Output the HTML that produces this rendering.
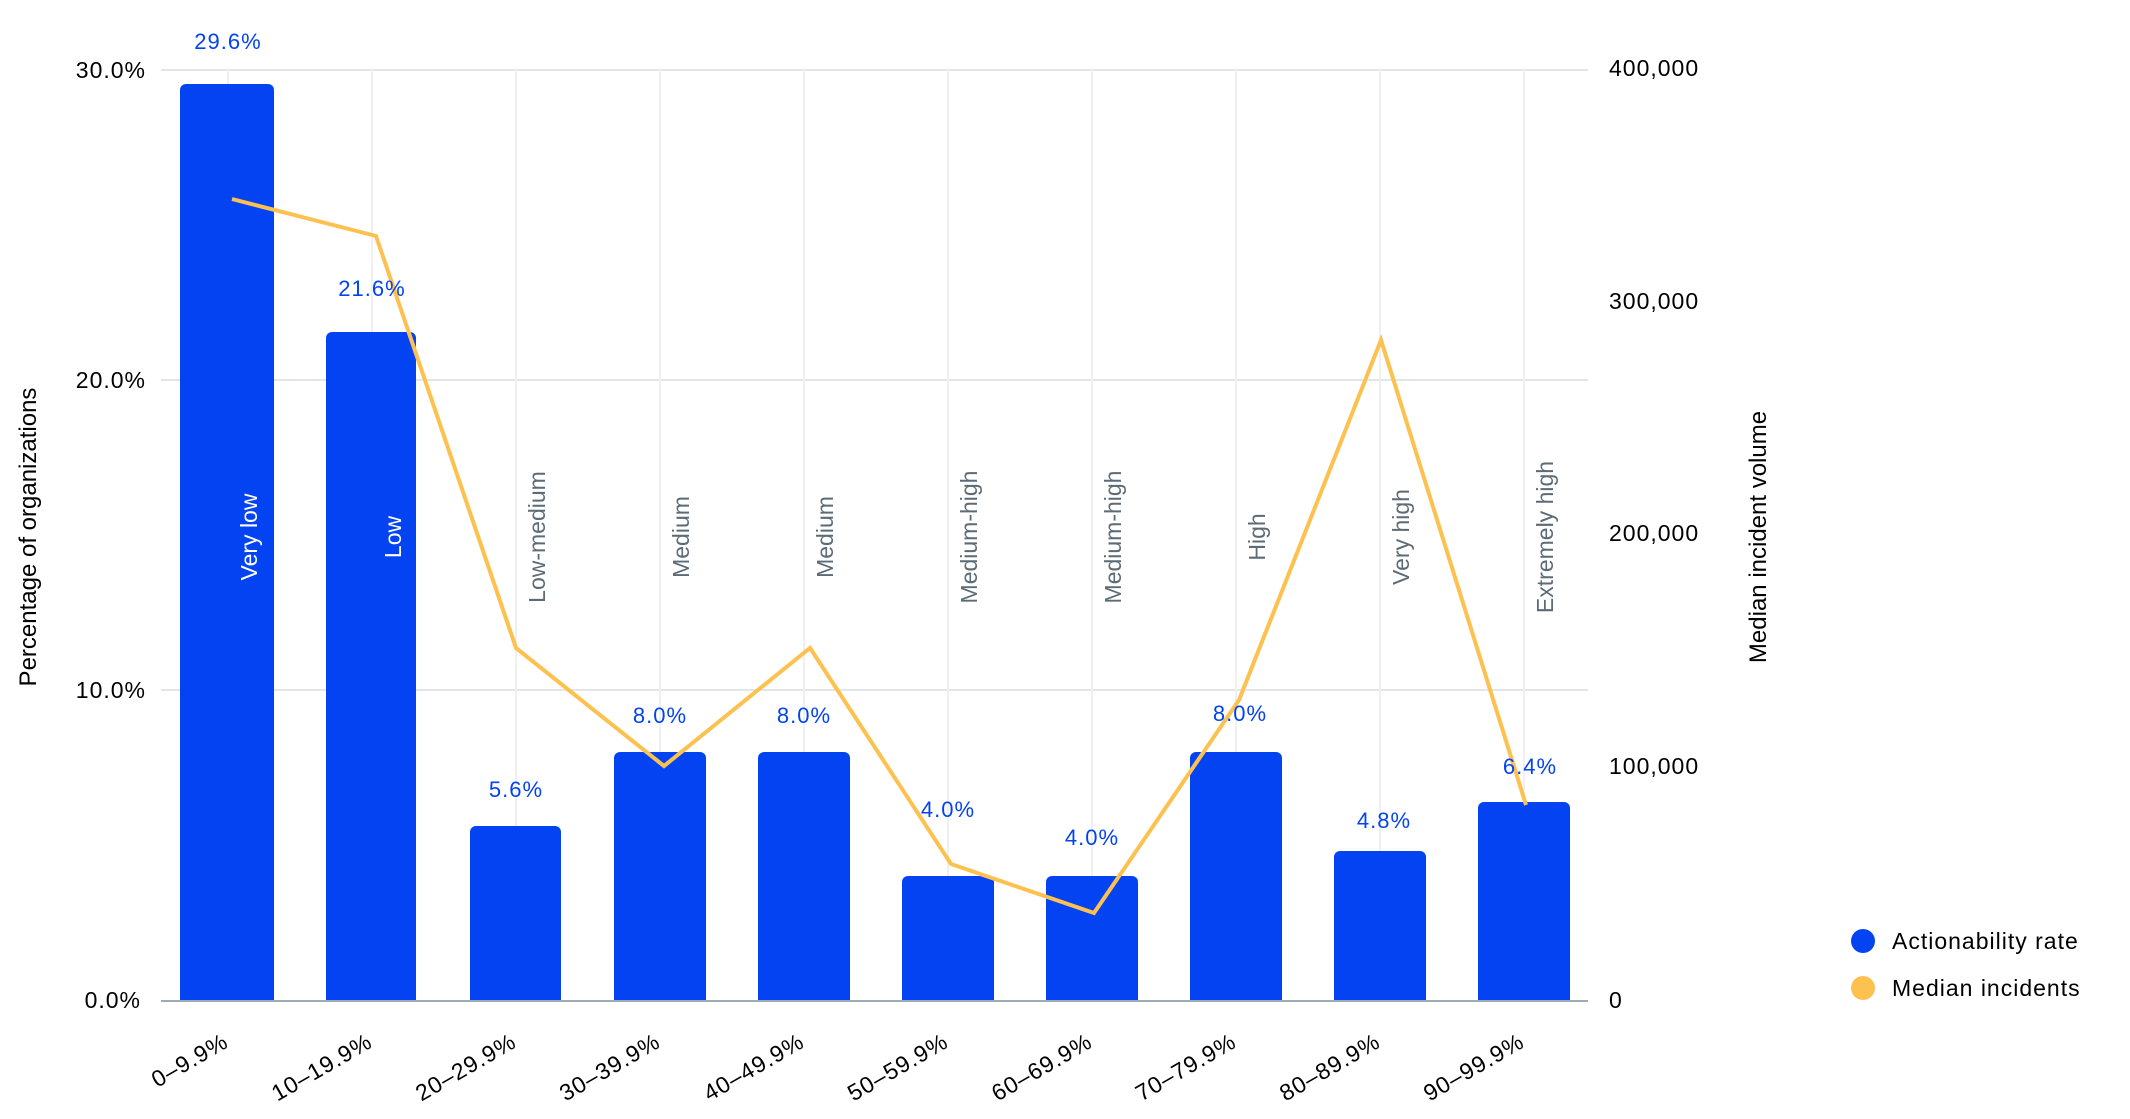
<!DOCTYPE html>
<html><head><meta charset="utf-8"><style>
html,body{margin:0;padding:0;background:#fff;}
svg text{font-family:"Liberation Sans",sans-serif;}
</style></head><body>
<svg width="2130" height="1114" viewBox="0 0 2130 1114" xmlns="http://www.w3.org/2000/svg">
<g stroke="#e3e6e8" stroke-width="2">
<line x1="161" y1="70" x2="1588" y2="70"/>
<line x1="161" y1="380" x2="1588" y2="380"/>
<line x1="161" y1="690" x2="1588" y2="690"/>
</g>
<g stroke="#eef0f1" stroke-width="2">
<line x1="228" y1="70" x2="228" y2="1000"/><line x1="372" y1="70" x2="372" y2="1000"/><line x1="516" y1="70" x2="516" y2="1000"/><line x1="660" y1="70" x2="660" y2="1000"/><line x1="804" y1="70" x2="804" y2="1000"/><line x1="948" y1="70" x2="948" y2="1000"/><line x1="1092" y1="70" x2="1092" y2="1000"/><line x1="1236" y1="70" x2="1236" y2="1000"/><line x1="1380" y1="70" x2="1380" y2="1000"/><line x1="1524" y1="70" x2="1524" y2="1000"/>
</g>
<g fill="#0443f2">
<path d="M180 1000V90a6 6 0 0 1 6-6h82a6 6 0 0 1 6 6V1000Z"/>
<path d="M326 1000V338a6 6 0 0 1 6-6h78a6 6 0 0 1 6 6V1000Z"/>
<path d="M470 1000V832a6 6 0 0 1 6-6h79a6 6 0 0 1 6 6V1000Z"/>
<path d="M614 1000V758a6 6 0 0 1 6-6h80a6 6 0 0 1 6 6V1000Z"/>
<path d="M758 1000V758a6 6 0 0 1 6-6h80a6 6 0 0 1 6 6V1000Z"/>
<path d="M902 1000V882a6 6 0 0 1 6-6h80a6 6 0 0 1 6 6V1000Z"/>
<path d="M1046 1000V882a6 6 0 0 1 6-6h80a6 6 0 0 1 6 6V1000Z"/>
<path d="M1190 1000V758a6 6 0 0 1 6-6h80a6 6 0 0 1 6 6V1000Z"/>
<path d="M1334 1000V857a6 6 0 0 1 6-6h80a6 6 0 0 1 6 6V1000Z"/>
<path d="M1478 1000V808a6 6 0 0 1 6-6h80a6 6 0 0 1 6 6V1000Z"/>
</g>
<line x1="161" y1="1001" x2="1588" y2="1001" stroke="#a0aab0" stroke-width="2"/>
<polyline fill="none" stroke="#fdc150" stroke-width="4" stroke-linejoin="miter" points="232,199 376,236 516,648 664,766 810,648 951,864 1094,913 1239,700 1381,340 1526,805"/>
<g fill="#0443f2" font-size="22" text-anchor="middle" letter-spacing="1">
<text x="228" y="49">29.6%</text><text x="372" y="296">21.6%</text><text x="516" y="797">5.6%</text><text x="660" y="723">8.0%</text><text x="804" y="723">8.0%</text><text x="948" y="817">4.0%</text><text x="1092" y="845">4.0%</text><text x="1240" y="721">8.0%</text><text x="1384" y="828">4.8%</text><text x="1530" y="774">6.4%</text>
</g>
<g font-size="23" text-anchor="middle">
<text transform="translate(257,537) rotate(-90)" fill="#fff">Very low</text>
<text transform="translate(401,537) rotate(-90)" fill="#fff">Low</text>
<text transform="translate(545,537) rotate(-90)" fill="#5d6b75">Low-medium</text>
<text transform="translate(689,537) rotate(-90)" fill="#5d6b75">Medium</text>
<text transform="translate(833,537) rotate(-90)" fill="#5d6b75">Medium</text>
<text transform="translate(977,537) rotate(-90)" fill="#5d6b75">Medium-high</text>
<text transform="translate(1121,537) rotate(-90)" fill="#5d6b75">Medium-high</text>
<text transform="translate(1265,537) rotate(-90)" fill="#5d6b75">High</text>
<text transform="translate(1409,537) rotate(-90)" fill="#5d6b75">Very high</text>
<text transform="translate(1553,537) rotate(-90)" fill="#5d6b75">Extremely high</text>
</g>
<g font-size="23" fill="#000" text-anchor="end" letter-spacing="1">
<text x="146" y="78">30.0%</text><text x="146" y="388">20.0%</text><text x="146" y="698">10.0%</text><text x="141" y="1008">0.0%</text>
</g>
<g font-size="23" fill="#000" letter-spacing="1">
<text x="1609" y="76">400,000</text><text x="1609" y="309">300,000</text><text x="1609" y="541">200,000</text><text x="1609" y="774">100,000</text><text x="1609" y="1008">0</text>
</g>
<g font-size="23" fill="#000" text-anchor="end" letter-spacing="1">
<text transform="translate(230,1046) rotate(-30)">0–9.9%</text>
<text transform="translate(374,1046) rotate(-30)">10–19.9%</text>
<text transform="translate(518,1046) rotate(-30)">20–29.9%</text>
<text transform="translate(662,1046) rotate(-30)">30–39.9%</text>
<text transform="translate(806,1046) rotate(-30)">40–49.9%</text>
<text transform="translate(950,1046) rotate(-30)">50–59.9%</text>
<text transform="translate(1094,1046) rotate(-30)">60–69.9%</text>
<text transform="translate(1238,1046) rotate(-30)">70–79.9%</text>
<text transform="translate(1382,1046) rotate(-30)">80–89.9%</text>
<text transform="translate(1526,1046) rotate(-30)">90–99.9%</text>
</g>
<text transform="translate(36,537) rotate(-90)" font-size="24" text-anchor="middle" fill="#000">Percentage of organizations</text>
<text transform="translate(1766,537) rotate(-90)" font-size="24" text-anchor="middle" fill="#000">Median incident volume</text>
<circle cx="1863" cy="941" r="12" fill="#0443f2"/>
<circle cx="1863" cy="988" r="12" fill="#fdc150"/>
<text x="1892" y="949" font-size="23" fill="#000" letter-spacing="1">Actionability rate</text>
<text x="1892" y="996" font-size="23" fill="#000" letter-spacing="1">Median incidents</text>
</svg>
</body></html>
